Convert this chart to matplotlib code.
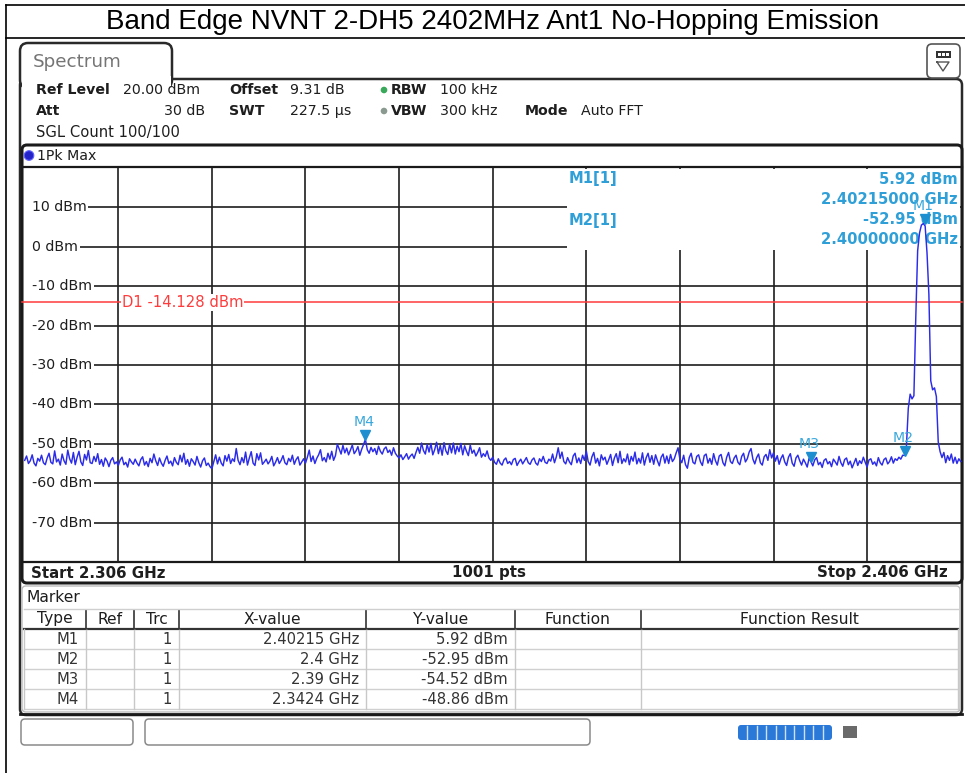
import numpy as np
import matplotlib
matplotlib.use("Agg")
import matplotlib.pyplot as plt
from matplotlib.patches import Rectangle, FancyBboxPatch, Circle
from matplotlib import transforms

# ---------------- data ----------------
TITLE = "Band Edge NVNT 2-DH5 2402MHz Ant1 No-Hopping Emission"
start_ghz = 2.306
stop_ghz = 2.406
ref_level_dbm = 20.0
bottom_level_dbm = -80.0
x_grid_ghz = [2.316, 2.326, 2.336, 2.346, 2.356, 2.366, 2.376, 2.386, 2.396]
y_ticks = [10, 0, -10, -20, -30, -40, -50, -60, -70]
y_tick_labels = ["10 dBm", "0 dBm", "-10 dBm", "-20 dBm", "-30 dBm",
                 "-40 dBm", "-50 dBm", "-60 dBm", "-70 dBm"]
d1_level_dbm = -14.128
d1_label = "D1 -14.128 dBm"

# trace level (dBm) at 0.2 MHz steps 2.306 ... 2.406 GHz
trace_dbm = [
    -54.2, -53.1, -55.0, -54.3, -52.8, -54.9, -55.6, -53.7, -54.4, -52.9,
    -54.8, -55.3, -53.6, -52.4, -54.7, -55.1, -51.8, -54.6, -53.9, -55.4,
    -52.6, -54.3, -55.2, -51.6, -53.8, -54.9, -52.2, -55.3, -53.4, -51.9,
    -54.6, -55.5, -52.7, -54.1, -51.7, -54.8, -55.0, -53.2, -54.5, -52.5,
    -55.2, -54.0, -55.7, -53.6, -54.4, -55.8, -54.2, -53.5, -55.1, -54.6,
    -55.5, -54.1, -53.4, -55.3, -54.7, -55.9, -53.8, -54.6, -55.2, -53.9,
    -54.9, -55.6, -54.0, -53.3, -55.4, -54.5, -55.8, -53.7, -54.8, -52.6,
    -54.3, -55.5, -53.6, -54.9, -55.7, -54.2, -53.1, -55.0, -54.4, -55.6,
    -53.5, -54.7, -55.3, -52.9, -54.6, -52.4, -55.2, -54.0, -55.7, -53.8,
    -54.5, -55.4, -53.2, -54.8, -55.9, -54.3, -53.6, -55.5, -54.9, -55.8,
    -56.3, -54.6, -52.8, -55.1, -53.4, -54.9, -55.6, -53.0, -54.4, -52.7,
    -55.0, -53.8, -54.5, -51.2, -54.2, -55.3, -53.5, -54.8, -52.1, -55.4,
    -53.6, -52.0, -54.9, -55.5, -52.5, -54.1, -52.3, -55.2, -54.6, -53.9,
    -55.1, -54.4, -53.2, -55.6, -54.7, -53.5, -55.0, -54.2, -53.0, -54.8,
    -55.3, -53.7, -54.5, -52.9, -55.2, -54.0, -53.3, -55.4, -54.6, -53.8,
    -54.9, -53.4, -51.6, -54.5, -53.1, -55.0, -53.7, -52.8, -51.5, -54.3,
    -53.5, -54.6, -52.4, -53.9, -51.9, -54.2, -53.0, -50.1, -51.3, -52.6,
    -50.4, -52.3, -51.1, -52.8, -51.6, -50.3, -52.5, -51.8, -50.7, -52.9,
    -51.4, -50.2, -48.86, -51.5, -52.4, -50.9, -52.0, -51.2, -52.7, -50.6,
    -51.9, -52.6, -51.3, -50.8, -52.2, -51.6, -52.9, -51.0, -52.4, -53.1,
    -53.6, -52.8, -54.0, -53.3, -52.5, -53.9, -53.1, -52.6, -53.7, -52.2,
    -50.9, -52.4, -49.8, -51.7, -52.6, -50.2, -52.1, -49.9, -52.8, -51.5,
    -49.6, -52.5, -50.4, -52.9, -49.7, -51.8, -52.7, -50.1, -52.3, -49.8,
    -52.6, -50.6, -52.0, -49.9, -52.8, -50.5, -51.9, -53.0, -50.3, -52.4,
    -51.6, -53.1, -52.2, -51.0, -53.4, -52.5, -53.2, -51.8, -53.6, -54.2,
    -53.4, -54.7, -55.2, -53.8, -54.9, -55.4, -54.1, -53.6, -55.0, -54.5,
    -55.3, -54.0, -53.7, -55.5, -54.6, -53.9, -55.1, -54.3, -53.5, -54.8,
    -55.2, -54.1, -53.6, -54.9, -55.4, -53.8, -54.5, -53.2, -54.7, -55.0,
    -53.9, -54.4, -52.6, -54.8, -53.3, -51.0, -53.7, -52.1, -54.5, -55.1,
    -53.5, -54.6, -55.3, -53.1, -52.4, -54.8, -53.6, -55.0, -52.9, -54.2,
    -51.8, -54.5, -55.4, -53.3, -52.2, -54.9, -53.7, -55.6, -52.8, -54.1,
    -53.4, -55.2, -54.0, -52.7, -55.5, -53.6, -52.5, -54.8, -51.9, -55.0,
    -53.8, -54.6, -52.6, -55.3, -53.2, -54.4, -52.1, -55.1, -53.7, -54.9,
    -52.3, -55.4, -53.5, -52.4, -54.7, -53.0, -55.2, -52.8, -54.3, -55.6,
    -53.4, -52.6, -54.9, -53.1, -55.0, -52.7, -54.5, -53.8, -52.3, -51.0,
    -53.9, -54.8, -52.9, -55.3, -56.2, -53.5, -52.4, -54.7, -55.1, -53.2,
    -52.8, -54.6, -55.5, -53.0, -52.6, -54.9, -53.7, -55.2, -52.5, -54.3,
    -55.4, -53.1, -52.7, -54.8, -55.6, -53.4, -52.2, -54.5, -55.0, -53.6,
    -52.9, -54.7, -55.3, -53.2, -52.4, -54.6, -53.8, -52.1, -51.2, -53.9,
    -55.1, -53.5, -52.6, -54.8, -55.4, -53.3, -52.7, -54.2, -51.5, -53.6,
    -52.3, -54.4, -53.0, -55.2, -53.7, -52.8, -54.6, -55.5, -53.4, -52.5,
    -54.9, -55.7, -53.6, -52.9, -54.3, -55.4, -53.9, -54.8, -55.9, -53.7,
    -54.52, -55.6, -54.1, -53.5, -55.3, -54.7, -56.0, -54.2, -53.8, -55.1,
    -54.5, -55.8, -53.9, -54.6, -55.4, -53.2, -54.8, -55.7, -54.0, -53.6,
    -55.3, -54.4, -56.1, -54.9, -53.7, -55.5, -54.3, -55.0, -53.4, -54.7,
    -55.9, -54.1, -53.8, -55.2, -54.6, -55.6, -53.5, -54.8, -55.4, -54.0,
    -53.6, -55.1, -54.5, -53.3, -54.9, -53.8, -54.2, -53.4, -53.9, -52.9,
    -52.95, -50.7, -41.0, -37.4, -38.6, -37.8, -18.0, -1.0, 3.5, 5.5,
    5.9, 5.3, -1.5, -12.0, -34.0, -36.3, -35.8, -38.0, -49.5, -52.0,
    -53.5, -52.2, -54.8, -53.0, -54.2, -52.6, -54.9, -53.4, -55.0, -53.8, -54.5,
]

marker_names = ["M1", "M2", "M3", "M4"]
marker_freq_ghz = [2.40215, 2.4, 2.39, 2.3424]
marker_level_dbm = [5.92, -52.95, -54.52, -48.86]
marker_ref = ["", "", "", ""]
marker_trc = ["1", "1", "1", "1"]
marker_x_text = ["2.40215 GHz", "2.4 GHz", "2.39 GHz", "2.3424 GHz"]
marker_y_text = ["5.92 dBm", "-52.95 dBm", "-54.52 dBm", "-48.86 dBm"]
table_headers = ["Type", "Ref", "Trc", "X-value", "Y-value", "Function", "Function Result"]

info_line1 = [("Ref Level", True, 36), ("20.00 dBm", False, 123), ("Offset", True, 229),
              ("9.31 dB", False, 290), ("RBW", True, 391), ("100 kHz", False, 440)]
info_line2 = [("Att", True, 36), ("SWT", True, 229), ("227.5 µs", False, 290),
              ("VBW", True, 391), ("300 kHz", False, 440), ("Mode", True, 525),
              ("Auto FFT", False, 581)]

# ---------------- figure ----------------
W, H = 965, 773
fig = plt.figure(figsize=(W / 100, H / 100), dpi=100)
fig.patch.set_facecolor("white")

bg = fig.add_axes([0, 0, 1, 1], zorder=0)
bg.set_xlim(0, W)
bg.set_ylim(H, 0)
bg.axis("off")

FONT = "DejaVu Sans"
DARK = "#1e1e1e"
MCOL = "#2f9fd8"
TRACE = "#2b2bea"
FS = 10.2

# page / table lines
bg.plot([6, W], [5, 5], color="black", lw=1.2)
bg.plot([6, W], [38, 38], color="black", lw=1.2)
bg.plot([6, 6], [5, H], color="black", lw=1.2)
bg.text(493, 22, TITLE, ha="center", va="center", fontsize=20,
        family="Liberation Sans", color="black")

# main panel
panel = FancyBboxPatch((20, 79), 942, 636, boxstyle="round,pad=0,rounding_size=6",
                       fc="white", ec="#2a2a2a", lw=1.8)
bg.add_patch(panel)
tab = FancyBboxPatch((20, 43), 152, 45, boxstyle="round,pad=0,rounding_size=8",
                     fc="white", ec="#2a2a2a", lw=1.8)
bg.add_patch(tab)
bg.add_patch(Rectangle((21.5, 76), 149, 14, fc="white", ec="none", zorder=3))
bg.text(33, 62, "Spectrum", fontsize=13.2, family=FONT, color="#757575", va="center")
icon = FancyBboxPatch((927, 44), 33, 34, boxstyle="round,pad=0,rounding_size=5",
                      fc="white", ec="#555555", lw=1.2)
bg.add_patch(icon)
bg.add_patch(Rectangle((936, 51), 15, 7, fc="#333333", ec="none"))
for k in range(3):
    bg.add_patch(Rectangle((938 + 4 * k, 53), 2.5, 3, fc="white", ec="none"))
bg.plot([937, 949, 943, 937], [62, 62, 71, 62], color="#555555", lw=1)

# setting lines
for s, bold, x in info_line1:
    bg.text(x, 90, s, fontsize=FS, family=FONT, fontweight="bold" if bold else "normal",
            color=DARK, va="center")
for s, bold, x in info_line2:
    bg.text(x, 111, s, fontsize=FS, family=FONT, fontweight="bold" if bold else "normal",
            color=DARK, va="center")
bg.text(205, 111, "30 dB", fontsize=FS, family=FONT, color=DARK, va="center", ha="right")
bg.text(36, 132, "SGL Count 100/100", fontsize=FS + 0.4, family=FONT, color=DARK,
        va="center")
bg.add_patch(Circle((384, 90), 3.3, fc="#3aa85a", ec="none"))
bg.add_patch(Circle((384, 111), 3.3, fc="#8a9a90", ec="none"))

# graph frame
frame = FancyBboxPatch((22, 145), 940, 438, boxstyle="round,pad=0,rounding_size=5",
                       fc="white", ec="#1a1a1a", lw=2.2)
bg.add_patch(frame)
bg.plot([22, 962], [167, 167], color="#1a1a1a", lw=1.6)
bg.plot([22, 962], [562, 562], color="#1a1a1a", lw=1.6)
bg.add_patch(Circle((29, 155.5), 4.8, fc="#2323c8", ec="#6060ff", lw=0.8))
bg.text(37, 155.5, "1Pk Max", fontsize=FS, family=FONT, color=DARK, va="center")
bg.text(31, 573, "Start 2.306 GHz", fontsize=10.8, family=FONT, fontweight="bold",
        color=DARK, va="center")
bg.text(489, 573, "1001 pts", fontsize=10.8, family=FONT, fontweight="bold",
        color=DARK, va="center", ha="center")
bg.text(948, 573, "Stop 2.406 GHz", fontsize=10.8, family=FONT, fontweight="bold",
        color=DARK, va="center", ha="right")

# ---------------- trace axes ----------------
gx0, gx1, gy0, gy1 = 24.7, 960.7, 168.0, 562.0
ax = fig.add_axes([gx0 / W, (H - gy1) / H, (gx1 - gx0) / W, (gy1 - gy0) / H], zorder=1)
ax.patch.set_alpha(0)
ax.set_xlim(start_ghz, stop_ghz)
ax.set_ylim(bottom_level_dbm, ref_level_dbm)
for sp in ax.spines.values():
    sp.set_visible(False)
ax.set_xticks(x_grid_ghz)
ax.set_yticks(y_ticks)
ax.tick_params(length=0, labelleft=False, labelbottom=False)
ax.grid(True, color="#1e1e1e", lw=1.2)
ax.set_axisbelow(True)

pix = bg.transData
# marker info panel hides grid in upper right
ax.add_artist(Rectangle((567, 169), 393, 81, transform=pix, fc="white", ec="none",
                        zorder=1.5, clip_on=False))
bt = transforms.blended_transform_factory(pix, ax.transData)
for v, lab in zip(y_ticks, y_tick_labels):
    ax.add_artist(Rectangle((23.5, v - 1.5), 9, 3, transform=bt, fc="white", ec="none",
                            zorder=1.8, clip_on=False))
    ax.text(32, v, lab, transform=bt, fontsize=FS, family=FONT, color=DARK,
            va="center", ha="left", zorder=2,
            bbox=dict(fc="white", ec="none", pad=1.2))

# D1 line
ax.plot([22, 962], [d1_level_dbm, d1_level_dbm], transform=bt, color="#ff3b3b",
        lw=1.1, zorder=2, clip_on=False)
ax.text(122, d1_level_dbm, d1_label, transform=bt, fontsize=10.6, family=FONT,
        color="#ff3b3b", va="center", ha="left", zorder=2.2,
        bbox=dict(fc="white", ec="none", pad=0.6))

# marker info text
MFS = 10.6
ax.text(569, 179, "M1[1]", transform=pix, fontsize=MFS, family=FONT, fontweight="bold",
        color=MCOL, va="center", zorder=2)
ax.text(569, 220, "M2[1]", transform=pix, fontsize=MFS, family=FONT, fontweight="bold",
        color=MCOL, va="center", zorder=2)
ax.text(958, 179, f"{marker_level_dbm[0]:.2f} dBm", transform=pix, fontsize=MFS,
        family=FONT, fontweight="bold", color=MCOL, va="center", ha="right", zorder=2)
ax.text(958, 199, f"{marker_freq_ghz[0]:.8f} GHz", transform=pix, fontsize=MFS,
        family=FONT, fontweight="bold", color=MCOL, va="center", ha="right", zorder=2)
ax.text(958, 220, f"{marker_level_dbm[1]:.2f} dBm", transform=pix, fontsize=MFS,
        family=FONT, fontweight="bold", color=MCOL, va="center", ha="right", zorder=2)
ax.text(958, 240, f"{marker_freq_ghz[1]:.8f} GHz", transform=pix, fontsize=MFS,
        family=FONT, fontweight="bold", color=MCOL, va="center", ha="right", zorder=2)

# trace
freq = np.linspace(start_ghz, stop_ghz, len(trace_dbm))
ax.plot(freq, trace_dbm, color=TRACE, lw=1.05, zorder=3, clip_on=False)

# markers
up = transforms.ScaledTranslation(0, 4.5 / 100, fig.dpi_scale_trans)
ax.plot(marker_freq_ghz, marker_level_dbm, linestyle="none", marker="v", markersize=7.5,
        color="#1d8fd0", transform=ax.transData + up, zorder=4, clip_on=False)
for name, f, lv in zip(marker_names, marker_freq_ghz, marker_level_dbm):
    ax.annotate(name, (f, lv), xytext=(-1, 12.5), textcoords="offset points",
                ha="center", va="center", fontsize=FS, family=FONT, color="#3aa8dc",
                zorder=4, annotation_clip=False)

# ---------------- marker table ----------------
bg.add_patch(FancyBboxPatch((22, 586), 938, 126, boxstyle="round,pad=0,rounding_size=4",
                            fc="white", ec="#bbbbbb", lw=1.0))
bg.plot([20, 962], [714, 714], color="#1a1a1a", lw=2.0)
bg.text(27, 597, "Marker", fontsize=11.2, family=FONT, color=DARK, va="center")
col_edges = [24, 86, 134, 179, 366, 515, 641, 958]
row_top, row_h = 609, 20
bg.plot([24, 958], [row_top, row_top], color="#cfcfcf", lw=1)
bg.plot([24, 958], [row_top + row_h, row_top + row_h], color="#333333", lw=1.6)
for r in range(1, 5):
    yy = row_top + row_h * (r + 1)
    bg.plot([24, 958], [yy, yy], color="#d0d0d0", lw=1)
for ce in col_edges:
    bg.plot([ce, ce], [row_top + row_h, row_top + 5 * row_h], color="#c8c8c8", lw=1)
for ce in col_edges[1:-1]:
    bg.plot([ce, ce], [row_top + 2, row_top + row_h], color="#333333", lw=1.2)
for j, hd in enumerate(table_headers):
    cx = 0.5 * (col_edges[j] + col_edges[j + 1])
    bg.text(cx, row_top + row_h / 2, hd, fontsize=11.2, family=FONT, color=DARK,
            ha="center", va="center")
cols_txt = [marker_names, marker_ref, marker_trc, marker_x_text, marker_y_text]
for r in range(4):
    yy = row_top + row_h * (r + 1) + row_h / 2
    for j, col in enumerate(cols_txt):
        bg.text(col_edges[j + 1] - 7, yy, col[r], fontsize=10.6, family=FONT,
                color="#333333", ha="right", va="center")

# ---------------- status bar ----------------
bg.add_patch(FancyBboxPatch((21, 719), 112, 26, boxstyle="round,pad=0,rounding_size=4",
                            fc="white", ec="#8a8a8a", lw=1.1))
bg.add_patch(FancyBboxPatch((145, 719), 445, 26, boxstyle="round,pad=0,rounding_size=4",
                            fc="white", ec="#8a8a8a", lw=1.1))
bg.add_patch(FancyBboxPatch((738, 725), 94, 15, boxstyle="round,pad=0,rounding_size=3",
                            fc="#2a78d8", ec="none"))
for k in range(1, 10):
    bg.plot([738 + k * 9.4, 738 + k * 9.4], [726, 739], color="#cfe0f5", lw=1)
bg.add_patch(Rectangle((843, 726), 14, 12, fc="#6a6a6a", ec="none"))

fig.savefig("out.png", dpi=100, facecolor="white")
